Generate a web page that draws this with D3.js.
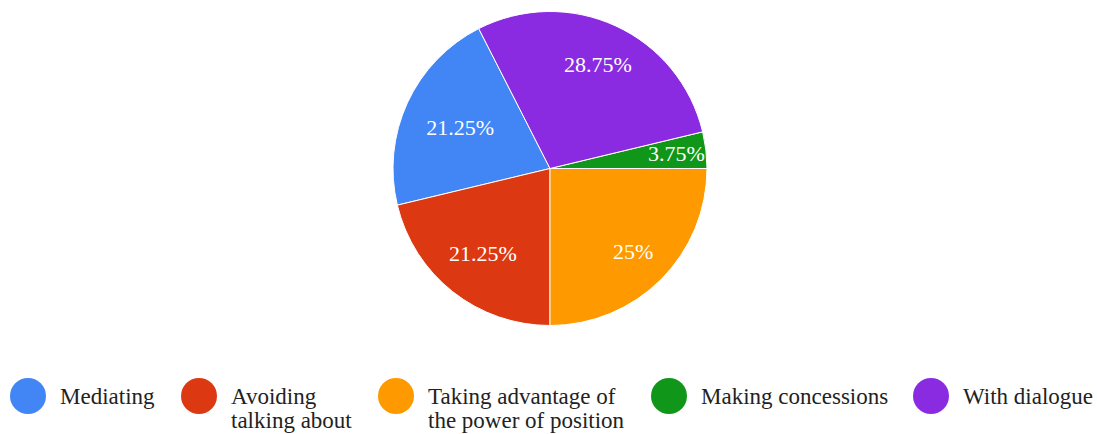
<!DOCTYPE html>
<html>
<head>
<meta charset="utf-8">
<script src="https://cdn.jsdelivr.net/npm/d3@7"></script>
<style>
  html, body { margin: 0; padding: 0; background: #fff; }
  svg { display: block; }
</style>
</head>
<body>
<svg id="chart" width="1097" height="434"></svg>
<script>
// Survey answers (legend order)
const categories = [
  "Mediating",
  "Avoiding talking about",
  "Taking advantage of the power of position",
  "Making concessions",
  "With dialogue"
];
const values = [21.25, 21.25, 25, 3.75, 28.75];
const colors = ["#4285f4", "#dc3912", "#ff9900", "#109618", "#8a2be2"];
// Order slices are laid out clockwise from 3 o'clock
const sliceOrder = [
  "Taking advantage of the power of position",
  "Avoiding talking about",
  "Mediating",
  "With dialogue",
  "Making concessions"
];
// Legend text broken onto lines
const legendLines = [
  ["Mediating"],
  ["Avoiding", "talking about"],
  ["Taking advantage of", "the power of position"],
  ["Making concessions"],
  ["With dialogue"]
];

// Layout: how far out (fraction of radius) each slice label sits
const labelRadiusFactor = {
  "Mediating": 0.63,
  "Avoiding talking about": 0.69,
  "Taking advantage of the power of position": 0.75,
  "Making concessions": 0.81,
  "With dialogue": 0.73
};

const FONT = "'Liberation Serif', 'Times New Roman', Tinos, 'DejaVu Serif', serif";

const data = categories.map((c, i) => ({ name: c, value: values[i], color: colors[i], lines: legendLines[i] }));

const svg = d3.select("#chart").attr("font-family", FONT);
const cx = 550, cy = 168.5, R = 157;

const pie = d3.pie()
  .value(d => d.value)
  .sort((a, b) => sliceOrder.indexOf(a.name) - sliceOrder.indexOf(b.name))
  .startAngle(Math.PI / 2)
  .endAngle(Math.PI / 2 + 2 * Math.PI);

const arc = d3.arc().innerRadius(0).outerRadius(R);

const g = svg.append("g").attr("transform", `translate(${cx},${cy})`);
const arcs = pie(data);

g.selectAll("path")
  .data(arcs)
  .join("path")
  .attr("d", arc)
  .attr("fill", d => d.data.color)
  .attr("stroke", "#fff")
  .attr("stroke-width", 1);

g.selectAll("text.pct")
  .data(arcs)
  .join("text")
  .attr("class", "pct")
  .attr("transform", d => {
    const r = R * labelRadiusFactor[d.data.name];
    const [x, y] = d3.arc().innerRadius(r).outerRadius(r).centroid(d);
    return `translate(${x},${y})`;
  })
  .attr("text-anchor", "middle")
  .attr("dy", "0.35em")
  .attr("fill", "#fff")
  .attr("font-family", FONT)
  .attr("font-size", 22)
  .text(d => d3.format("")(d.data.value) + "%");

// Legend
const legendX = [28, 199, 396, 669, 931];
const legendY = 396;
const lg = svg.append("g");
const items = lg.selectAll("g.item")
  .data(data)
  .join("g")
  .attr("class", "item")
  .attr("transform", (d, i) => `translate(${legendX[i]},${legendY})`);

items.append("circle")
  .attr("r", 18)
  .attr("fill", d => d.color);

items.each(function (d) {
  const t = d3.select(this).append("text")
    .attr("x", 32)
    .attr("y", 8)
    .attr("fill", "#222")
    .attr("font-family", FONT)
    .attr("font-size", 23);
  d.lines.forEach((line, j) => {
    t.append("tspan").attr("x", 32).attr("dy", j === 0 ? 0 : 24).text(line);
  });
});
</script>
</body>
</html>
